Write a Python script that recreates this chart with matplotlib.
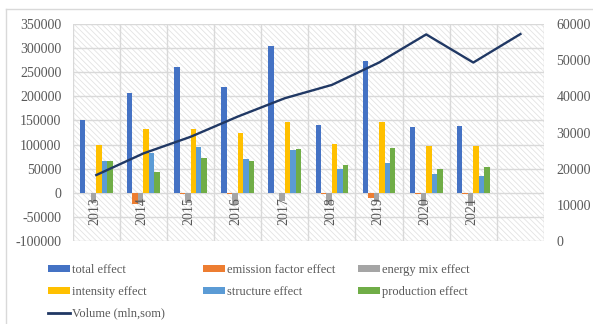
import matplotlib
matplotlib.use("Agg")
import matplotlib.pyplot as plt
import numpy as np
from matplotlib.patches import Rectangle, Patch
from matplotlib.lines import Line2D

categories = ["2013", "2014", "2015", "2016", "2017", "2018", "2019", "2020", "2021", ""]
total_effect = [150000, 208000, 262000, 219000, 305000, 140000, 273000, 136000, 138000, np.nan]
emission_factor_effect = [0, -24000, -2000, -2000, 0, -2000, -12000, -2000, -2000, np.nan]
energy_mix_effect = [-21000, -22000, -22000, -24000, -17000, -23000, -20000, -25000, -27000, np.nan]
intensity_effect = [99000, 132000, 132000, 123000, 147000, 101000, 147000, 97000, 97000, np.nan]
structure_effect = [66000, 82000, 95000, 70000, 89000, 49000, 62000, 39000, 35000, np.nan]
production_effect = [66000, 43000, 72000, 66000, 91000, 57000, 93000, 49000, 54000, np.nan]
volume = [18200, 24200, 28800, 34400, 39500, 43200, 49400, 57200, 49400, 57300]

series_names = ["total effect", "emission factor effect", "energy mix effect",
                "intensity effect", "structure effect", "production effect"]
series_values = [total_effect, emission_factor_effect, energy_mix_effect,
                 intensity_effect, structure_effect, production_effect]
colors = ["#4472C4", "#ED7D31", "#A5A5A5", "#FFC000", "#5B9BD5", "#70AD47"]
line_color = "#203864"
text_color = "#595959"
grid_color = "#D9D9D9"

plt.rcParams['font.family'] = ['Liberation Serif', 'DejaVu Serif']
plt.rcParams['hatch.linewidth'] = 0.6
fs = 10
lfs = 9

W, H = 593, 324
fig = plt.figure(figsize=(W / 100, H / 100), dpi=100)
fig.patch.set_facecolor("white")

# outer chart border
fig.add_artist(Line2D([6 / W, 1], [1 - 9 / H, 1 - 9 / H], transform=fig.transFigure,
                      color=grid_color, lw=1))
fig.add_artist(Line2D([6 / W, 6 / W], [0, 1 - 9 / H], transform=fig.transFigure,
                      color=grid_color, lw=1))

left, right, top, bottom = 72.7, 544, 24.3, 240.7
ax = fig.add_axes([left / W, 1 - bottom / H, (right - left) / W, (bottom - top) / H])
ax.set_facecolor("none")

n = len(categories)
x = np.arange(n)
ax.set_xlim(-0.5, n - 0.5)
ax.set_ylim(-100000, 350000)

# hatched background
bg = Rectangle((0, 0), 1, 1, transform=ax.transAxes, facecolor="white",
               edgecolor="#E3E3E3", hatch="\\\\\\\\\\\\", lw=0, zorder=-5)
ax.add_patch(bg)

# grid
yt = np.arange(-100000, 350001, 50000)
ax.set_yticks(yt)
for y in yt:
    ax.axhline(y, color=grid_color, lw=1, zorder=0)
for b in np.arange(-0.5, n, 1.0):
    ax.axvline(b, color=grid_color, lw=1, zorder=0)

bw = 0.116
for i, (name, vals, c) in enumerate(zip(series_names, series_values, colors)):
    ax.bar(x + (i - 2.5) * bw, vals, width=bw, color=c, label=name, zorder=2, lw=0)

for s in ax.spines.values():
    s.set_visible(False)
ax.tick_params(axis="both", length=0, colors=text_color, labelsize=fs)
ax.tick_params(axis="y", pad=8)
ax.set_yticklabels([f"{int(v)}" for v in yt])
ax.set_xticks([])
for xi, lab in zip(x, categories):
    ax.annotate(lab, xy=(xi, 0), xycoords="data", xytext=(-1, -3), textcoords="offset points",
                rotation=90, ha="center", va="top", color=text_color, fontsize=fs)

ax2 = ax.twinx()
ax2.set_ylim(0, 60000)
ax2.set_yticks(np.arange(0, 60001, 10000))
ax2.plot(x, volume, color=line_color, lw=1.7, zorder=3, label="Volume (mln,som)")
for s in ax2.spines.values():
    s.set_visible(False)
ax2.tick_params(axis="y", length=0, colors=text_color, labelsize=fs, pad=9)

# legends (3 columns placed manually, row-wise order like Excel)
handles = [Patch(facecolor=c, edgecolor="none") for c in colors]
line_h = Line2D([], [], color=line_color, lw=2)
cols = [
    ([handles[0], handles[3], line_h], [series_names[0], series_names[3], "Volume (mln,som)"], 48),
    ([handles[1], handles[4]], [series_names[1], series_names[4]], 203),
    ([handles[2], handles[5]], [series_names[2], series_names[5]], 358),
]
for hs, ls, px in cols:
    leg = fig.legend(hs, ls, loc="upper left", bbox_to_anchor=(px / W, 1 - 264 / H),
                     bbox_transform=fig.transFigure, frameon=False, fontsize=lfs,
                     borderpad=0, borderaxespad=0, handlelength=1.75, handleheight=0.5,
                     handletextpad=0.2, labelspacing=0.78)
    for t in leg.get_texts():
        t.set_color(text_color)

fig.savefig("out.png", dpi=100, facecolor="white")
